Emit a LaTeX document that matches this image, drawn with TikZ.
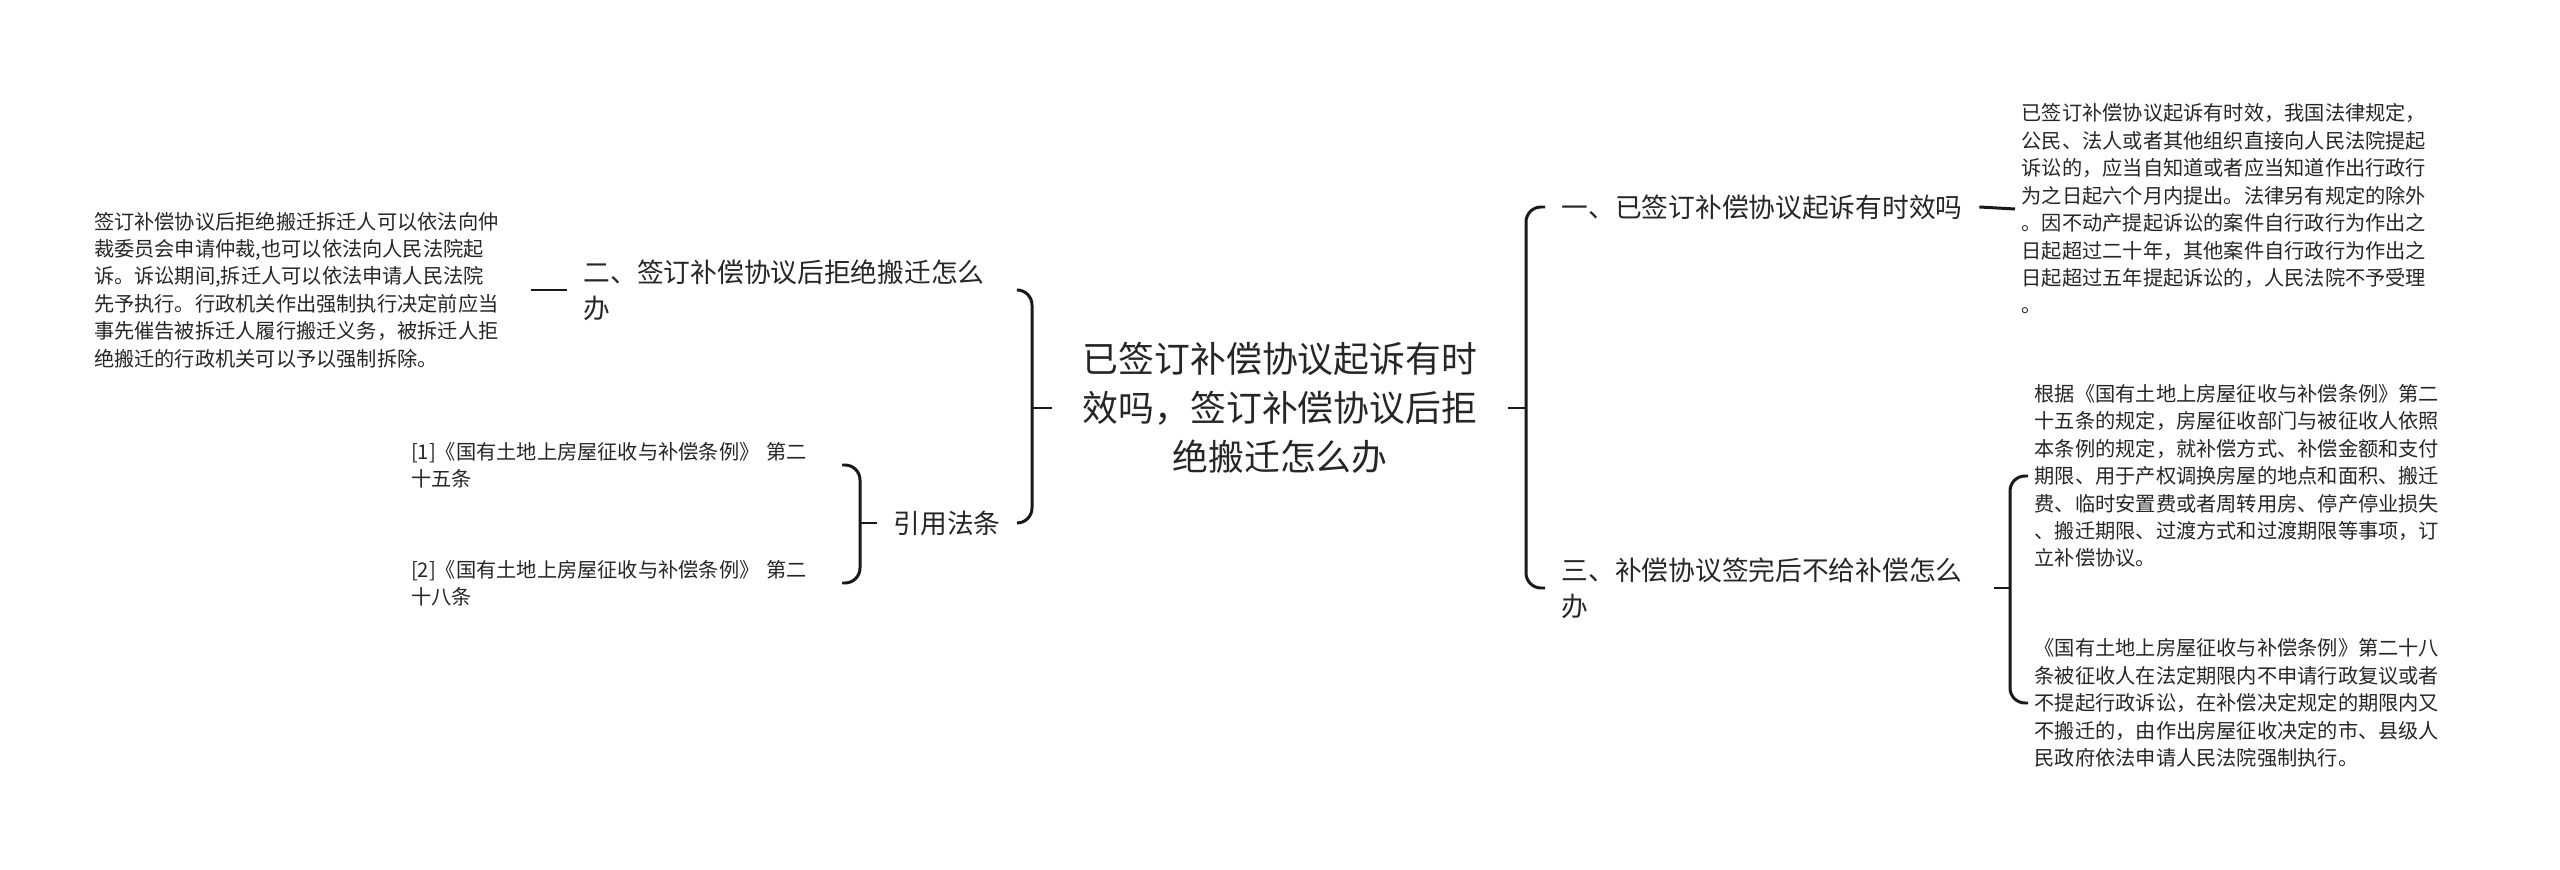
\documentclass[tikz,border=0pt]{standalone}
\usepackage{fontspec}
\setmainfont{Noto Sans CJK SC}
\usepackage{tikz}

\begin{document}
\begin{tikzpicture}[x=0.01cm,y=-0.01cm,
  link/.style={line width=0.85pt,draw=black!90,rounded corners=0.15cm},
  rootnode/.style={text=black!85,align=center,inner xsep=0.3cm,inner ysep=0pt,font=\fontsize{10.2}{13.9}\selectfont},
  branch/.style={text=black!85,align=left,inner xsep=0.16cm,inner ysep=0pt,font=\fontsize{7.6}{10.2}\selectfont},
  leaf/.style={text=black!85,align=left,text width=4.3cm,inner xsep=0.06cm,inner ysep=0pt,font=\fontsize{5.75}{7.8}\selectfont}]
  \useasboundingbox (0,0) rectangle (2560,870);
  % root
  \node[rootnode] (root) at (1280,408) {已签订补偿协议起诉有时\\效吗，签订补偿协议后拒\\绝搬迁怎么办};
  \coordinate (lj) at (1032,408); % left bracket
  \coordinate (rj) at (1526,408); % right bracket
  % left side
  \node[branch,anchor=west] (er) at (567,290) {二、签订补偿协议后拒绝搬迁怎么\\办};
  \node[leaf,anchor=east] (erleaf) at (531,290) {签订补偿协议后拒绝搬迁拆迁人可以依法向仲\\裁委员会申请仲裁,也可以依法向人民法院起\\诉。诉讼期间,拆迁人可以依法申请人民法院\\先予执行。行政机关作出强制执行决定前应当\\事先催告被拆迁人履行搬迁义务，被拆迁人拒\\绝搬迁的行政机关可以予以强制拆除。};
  \node[branch,anchor=west] (yin) at (877,523) {引用法条};
  \coordinate (yj) at (860,523);
  \node[leaf,anchor=east,text width=4.24cm] (ref1) at (842,465) {[1]《国有土地上房屋征收与补偿条例》 第二\\十五条};
  \node[leaf,anchor=east,text width=4.24cm] (ref2) at (842,583) {[2]《国有土地上房屋征收与补偿条例》 第二\\十八条};
  \draw[link] (root.west) -- (lj);
  \draw[link] ([xshift=0.16cm]er.east) -| (lj) |- (yin.east);
  \draw[link] (erleaf.east) -- (er.west);
  \draw[link] (yin.west) -- (yj);
  \draw[link] (ref1.east) -| (yj) |- (ref2.east);
  % right side
  \node[branch,anchor=west] (yi) at (1545,207) {一、已签订补偿协议起诉有时效吗};
  \node[branch,anchor=west] (san) at (1545,588) {三、补偿协议签完后不给补偿怎么\\办};
  \node[leaf,anchor=west] (yileaf) at (2015,209) {已签订补偿协议起诉有时效，我国法律规定，\\公民、法人或者其他组织直接向人民法院提起\\诉讼的，应当自知道或者应当知道作出行政行\\为之日起六个月内提出。法律另有规定的除外\\。因不动产提起诉讼的案件自行政行为作出之\\日起超过二十年，其他案件自行政行为作出之\\日起超过五年提起诉讼的，人民法院不予受理\\。};
  \coordinate (sj) at (2010,588);
  \node[leaf,anchor=west] (sanleaf1) at (2028,476) {根据《国有土地上房屋征收与补偿条例》第二\\十五条的规定，房屋征收部门与被征收人依照\\本条例的规定，就补偿方式、补偿金额和支付\\期限、用于产权调换房屋的地点和面积、搬迁\\费、临时安置费或者周转用房、停产停业损失\\、搬迁期限、过渡方式和过渡期限等事项，订\\立补偿协议。};
  \node[leaf,anchor=west] (sanleaf2) at (2028,703) {《国有土地上房屋征收与补偿条例》第二十八\\条被征收人在法定期限内不申请行政复议或者\\不提起行政诉讼，在补偿决定规定的期限内又\\不搬迁的，由作出房屋征收决定的市、县级人\\民政府依法申请人民法院强制执行。};
  \draw[link] (root.east) -- (rj);
  \draw[link] (yi.west) -| (rj) |- (san.west);
  \draw[link] (yi.east) -- (yileaf.west);
  \draw[link] ([xshift=0.15cm]san.east) -- (sj);
  \draw[link] (sanleaf1.west) -| (sj) |- (sanleaf2.west);
\end{tikzpicture}
\end{document}
